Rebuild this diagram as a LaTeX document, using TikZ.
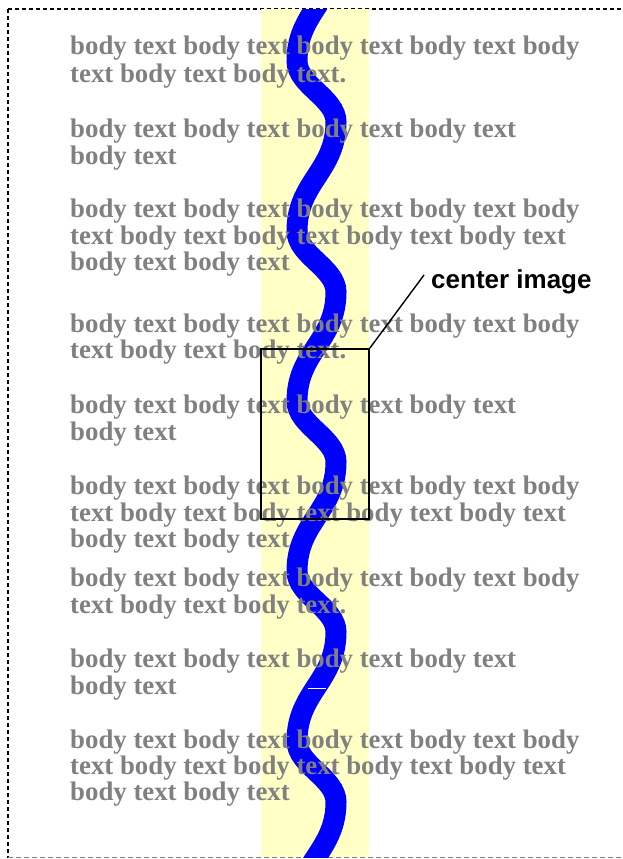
\documentclass[tikz,border=0pt]{standalone}
\usepackage{fontspec}
\setmainfont{Liberation Serif}
\newfontfamily\calloutfont{Liberation Sans}
\definecolor{bandyellow}{RGB}{255,255,198}
\definecolor{wavblue}{RGB}{0,0,255}
\definecolor{bodygray}{RGB}{128,128,128}
\tikzset{
  bodyline/.style={anchor=base west, inner sep=0pt, text=bodygray,
    font=\fontsize{26.8}{26.8}\selectfont\bfseries},
  calloutlabel/.style={anchor=base west, inner sep=0pt, text=black,
    font=\calloutfont\fontsize{26}{26}\selectfont\bfseries},
  framebox/.style={draw=black, line width=1.5pt, inner sep=0pt,
    minimum width=108pt, minimum height=170pt},
  leader/.style={draw=black, line width=1.4pt},
  topborder/.style={draw=black, line width=1.9pt, dash pattern=on 4pt off 3pt},
  botborder/.style={draw=bodygray, line width=1.3pt, dash pattern=on 5pt off 3pt},
  wave/.style={draw=wavblue, line width=21pt}
}
\begin{document}
\begin{tikzpicture}[x=1pt,y=-1pt]
\useasboundingbox (0,0) rectangle (622,859);
% page frame
\draw[topborder] (8,9) -- (622,9);
\draw[topborder] (8,9) -- (8,858);
\draw[botborder] (8,857.5) -- (622,857.5);
% yellow band
\fill[bandyellow] (261,9.5) rectangle (369,857);
% blue wave
\begin{scope}
\clip (0,10) rectangle (622,857);
\draw[wave] (297,-109) .. controls (297,-85) and (336,-72) .. (336,-48)
  .. controls (336,1) and (297,12) .. (297,61)
  .. controls (297,85) and (336,98) .. (336,122)
  .. controls (336,171) and (297,182) .. (297,231)
  .. controls (297,255) and (336,268) .. (336,292)
  .. controls (336,341) and (297,352) .. (297,401)
  .. controls (297,425) and (336,438) .. (336,462)
  .. controls (336,511) and (297,522) .. (297,571)
  .. controls (297,595) and (336,608) .. (336,632)
  .. controls (336,681) and (297,692) .. (297,741)
  .. controls (297,765) and (336,778) .. (336,802)
  .. controls (336,851) and (297,862) .. (297,911);
\draw[white, line width=0.8pt] (307.5,688.5) -- (326,688.5);
\end{scope}
% body text
\foreach \n/\yy/\txt in {
  a1/55/{body text body text body text body text body},
  a2/82/{text body text body text.},
  b1/137/{body text body text body text body text},
  b2/164/{body text},
  c1/217/{body text body text body text body text body},
  c2/244/{text body text body text body text body text},
  c3/270/{body text body text},
  d1/332/{body text body text body text body text body},
  d2/358/{text body text body text.},
  e1/413/{body text body text body text body text},
  e2/440/{body text},
  f1/494/{body text body text body text body text body},
  f2/521/{text body text body text body text body text},
  f3/547/{body text body text},
  g1/586/{body text body text body text body text body},
  g2/613/{text body text body text.},
  h1/667/{body text body text body text body text},
  h2/694/{body text},
  i1/748/{body text body text body text body text body},
  i2/774/{text body text body text body text body text},
  i3/800/{body text body text}}
  {\node[bodyline] (\n) at (70,\yy) {\txt};}
% center image frame and callout
\node[framebox] (box) at (315,434) {};
\node[calloutlabel] (lbl) at (431,288) {center image};
\coordinate (leadend) at (424,275);
\draw[leader] (box.north east) -- (leadend);
\end{tikzpicture}
\end{document}
